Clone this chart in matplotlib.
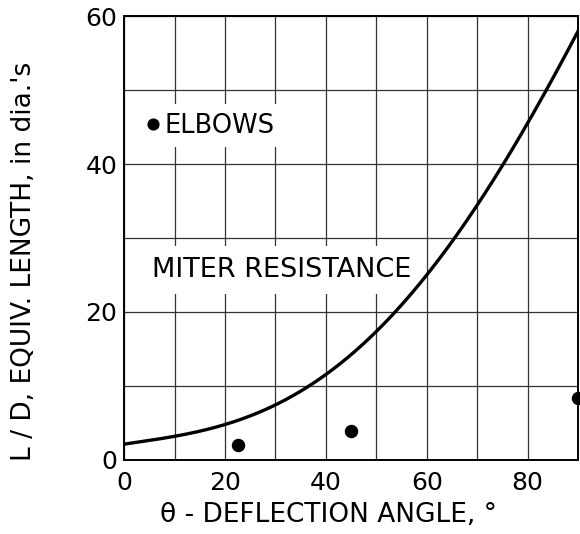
import numpy as np
import matplotlib.pyplot as plt

# miter resistance curve
angle = [0, 10, 20, 30, 40, 50, 60, 70, 80, 90]
miter_ld = [2.2, 3.0, 4.9, 7.7, 11.3, 17.3, 25.0, 34.7, 45.3, 58.0]

# elbow points
elbow_angle = [22.5, 45, 90]
elbow_ld = [2.0, 3.9, 8.4]

plt.rcParams['font.family'] = ['DejaVu Sans']

fig = plt.figure(figsize=(5.8, 5.34), dpi=100)
ax = fig.add_axes([0.214, 0.1386, 0.7826, 0.8314])

# smooth the curve through the read values
xs = np.linspace(0, 90, 200)
coef = np.polyfit(angle, miter_ld, 4)
ax.plot(xs, np.polyval(coef, xs), color='black', lw=2.4, zorder=3)

ax.scatter(elbow_angle, elbow_ld, s=75, color='black', zorder=4, clip_on=False)

ax.set_xlim(0, 90)
ax.set_ylim(0, 60)
ax.set_xticks(np.arange(0, 91, 10))
ax.set_yticks(np.arange(0, 61, 10))
ax.grid(True, color='#333333', lw=0.9)
ax.set_xticklabels(['0', '', '20', '', '40', '', '60', '', '80', ''])
ax.set_yticklabels(['0', '', '20', '', '40', '', '60'])
ax.tick_params(length=0, labelsize=18)
ax.tick_params(axis='y', pad=5)
ax.tick_params(axis='x', pad=8)
for sp in ax.spines.values():
    sp.set_linewidth(1.4)

ax.scatter([5.8], [45.4], s=60, color='black', zorder=4)
ax.text(8.0, 45.2, 'ELBOWS', fontsize=18.5, va='center', ha='left', zorder=3,
        bbox=dict(facecolor='white', edgecolor='none', pad=6))
ax.text(5.6, 25.7, 'MITER RESISTANCE', fontsize=19.5, va='center', ha='left', zorder=2,
        bbox=dict(facecolor='white', edgecolor='none', pad=8))

ax.set_xlabel('θ - DEFLECTION ANGLE, °', fontsize=19, va='center')
ax.set_ylabel("L / D, EQUIV. LENGTH, in dia.'s", fontsize=19, va='center')
ax.xaxis.set_label_coords(0.45, -0.124)
ax.yaxis.set_label_coords(-0.22, 0.448)

fig.savefig('out.png', dpi=100)
